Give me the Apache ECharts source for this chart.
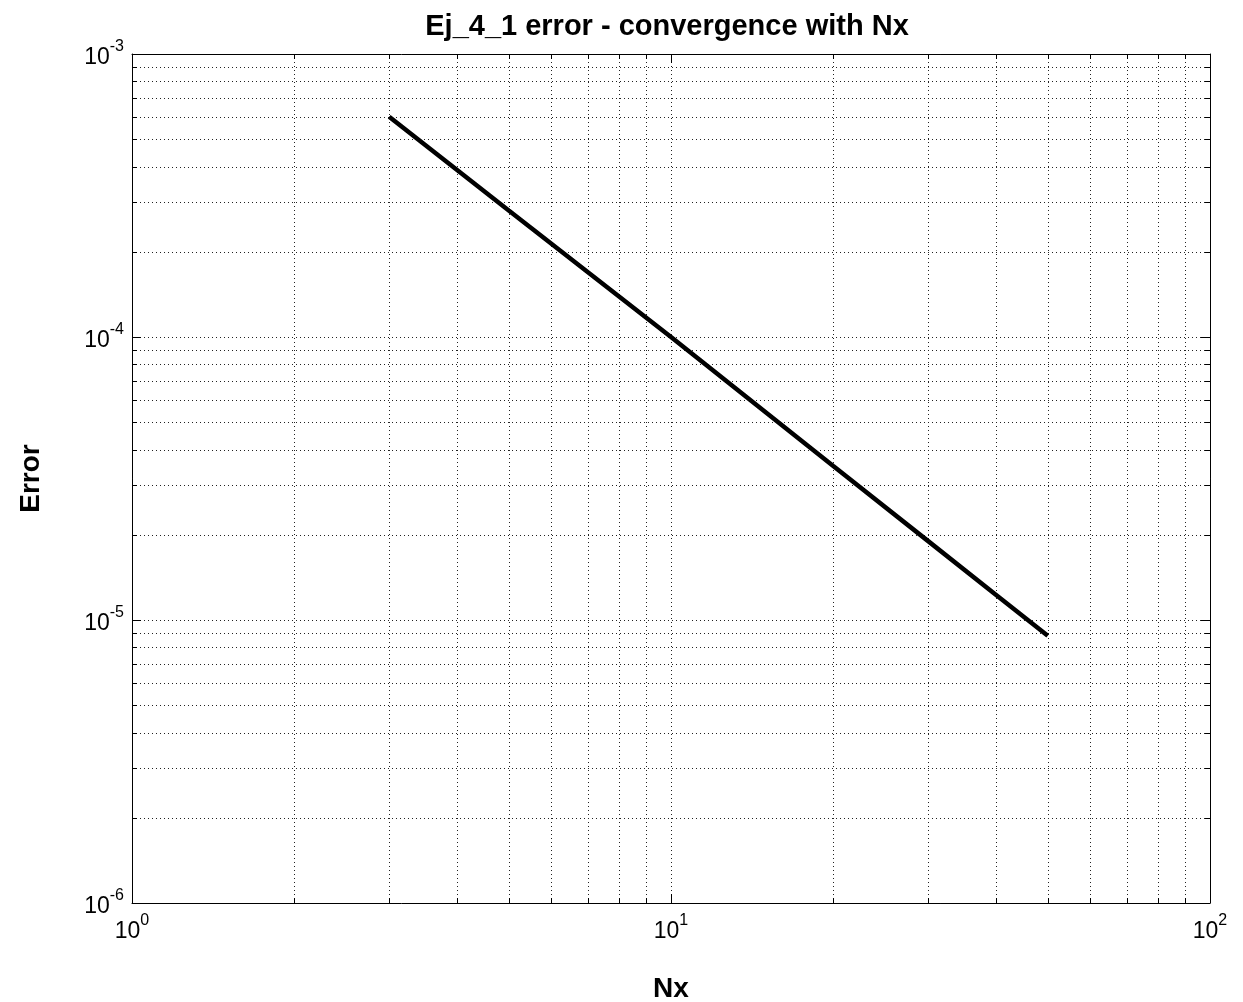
<!DOCTYPE html>
<html>
<head>
<meta charset="utf-8">
<script src="https://cdn.jsdelivr.net/npm/echarts@6/dist/echarts.min.js"></script>
<style>
html,body{margin:0;padding:0;background:#fff;}
#chart{width:1243px;height:1002px;}
</style>
</head>
<body>
<div id="chart"></div>
<script>
// Data
const nx = [3, 5, 10, 20, 30, 40, 50];
const errorVals = [6.0e-4, 2.8e-4, 1.0e-4, 3.5e-5, 1.9e-5, 1.23e-5, 8.8e-6];
const xMinorGrid = [2, 3, 4, 5, 6, 7, 8, 9, 20, 30, 40, 50, 60, 70, 80, 90];
const yMinorGrid = [2e-6, 3e-6, 4e-6, 5e-6, 6e-6, 7e-6, 8e-6, 9e-6,
                    2e-5, 3e-5, 4e-5, 5e-5, 6e-5, 7e-5, 8e-5, 9e-5,
                    2e-4, 3e-4, 4e-4, 5e-4, 6e-4, 7e-4, 8e-4, 9e-4];
const titleText = 'Ej_4_1 error - convergence with Nx';
const xName = 'Nx';
const yName = 'Error';

const FONT = '"Liberation Sans", Arial, sans-serif';
const GRID_COLOR = '#222';
const DASH = [1, 3];
const gridStyle = { color: GRID_COLOR, width: 1, type: DASH };
const MINOR_TICK = 5;

function powLabel(v) {
  const e = Math.round(Math.log10(v));
  return '{b|10}{s|' + e + '}';
}
const richLab = {
  b: { fontSize: 23, fontFamily: FONT, color: '#000', verticalAlign: 'bottom', lineHeight: 30 },
  s: { fontSize: 16, fontFamily: FONT, color: '#000', verticalAlign: 'top', lineHeight: 30 }
};

function minorX(params, api) {
  const cs = params.coordSys;
  const px = Math.round(api.coord([api.value(0), api.value(1)])[0]) + 0.5;
  const top = cs.y, bot = cs.y + cs.height;
  return {
    type: 'group',
    children: [
      { type: 'line', shape: { x1: px, y1: top, x2: px, y2: bot }, style: { stroke: GRID_COLOR, lineWidth: 1, lineDash: DASH }, silent: true },
      { type: 'line', shape: { x1: px, y1: bot, x2: px, y2: bot - MINOR_TICK }, style: { stroke: '#000', lineWidth: 1 }, silent: true },
      { type: 'line', shape: { x1: px, y1: top, x2: px, y2: top + MINOR_TICK }, style: { stroke: '#000', lineWidth: 1 }, silent: true }
    ]
  };
}
function minorY(params, api) {
  const cs = params.coordSys;
  const py = Math.round(api.coord([api.value(0), api.value(1)])[1]) + 0.5;
  const l = cs.x, r = cs.x + cs.width;
  return {
    type: 'group',
    children: [
      { type: 'line', shape: { x1: l, y1: py, x2: r, y2: py }, style: { stroke: GRID_COLOR, lineWidth: 1, lineDash: DASH }, silent: true },
      { type: 'line', shape: { x1: l, y1: py, x2: l + MINOR_TICK, y2: py }, style: { stroke: '#000', lineWidth: 1 }, silent: true },
      { type: 'line', shape: { x1: r, y1: py, x2: r - MINOR_TICK, y2: py }, style: { stroke: '#000', lineWidth: 1 }, silent: true }
    ]
  };
}

const axisCommon = {
  axisLine: { show: true, lineStyle: { color: '#000', width: 1 } },
  axisTick: { show: true, inside: true, length: 9, lineStyle: { color: '#000' } }
};

const chart = echarts.init(document.getElementById('chart'), null, { renderer: 'canvas' });
const option = {
  animation: false,
  backgroundColor: '#fff',
  title: {
    text: titleText,
    left: 662,
    textAlign: 'center',
    top: 7,
    textStyle: { fontFamily: FONT, fontWeight: 'bold', fontSize: 29, color: '#000' }
  },
  grid: { left: 132, right: 33, top: 54, bottom: 99, outerBoundsMode: 'none', containLabel: false },
  xAxis: [Object.assign({
    type: 'log', logBase: 10, min: 1, max: 100,
    name: xName, nameLocation: 'middle', nameGap: 72,
    nameTextStyle: { fontFamily: FONT, fontWeight: 'bold', fontSize: 28, color: '#000' },
    axisLabel: { formatter: powLabel, rich: richLab, margin: 10 },
    splitLine: { show: true, lineStyle: gridStyle }
  }, axisCommon), Object.assign({
    type: 'log', logBase: 10, min: 1, max: 100, position: 'top',
    axisLabel: { show: false },
    splitLine: { show: false }
  }, axisCommon)],
  yAxis: [Object.assign({
    type: 'log', logBase: 10, min: 1e-6, max: 1e-3,
    name: yName, nameLocation: 'middle', nameGap: 87, nameRotate: 90,
    nameTextStyle: { fontFamily: FONT, fontWeight: 'bold', fontSize: 28, color: '#000' },
    axisLabel: { formatter: powLabel, rich: richLab, margin: 8 },
    splitLine: { show: true, lineStyle: gridStyle }
  }, axisCommon), Object.assign({
    type: 'log', logBase: 10, min: 1e-6, max: 1e-3, position: 'right',
    axisLabel: { show: false },
    splitLine: { show: false }
  }, axisCommon)],
  series: [{
    type: 'custom',
    xAxisIndex: 0, yAxisIndex: 0,
    renderItem: minorX,
    data: xMinorGrid.map(v => [v, 1e-6]),
    silent: true,
    z: 1
  }, {
    type: 'custom',
    xAxisIndex: 0, yAxisIndex: 0,
    renderItem: minorY,
    data: yMinorGrid.map(v => [1, v]),
    silent: true,
    z: 1
  }, {
    type: 'line',
    xAxisIndex: 0, yAxisIndex: 0,
    data: nx.map((v, i) => [v, errorVals[i]]),
    showSymbol: false,
    symbol: 'none',
    lineStyle: { color: '#000', width: 4.5 },
    z: 5
  }]
};
chart.setOption(option);
</script>
</body>
</html>
